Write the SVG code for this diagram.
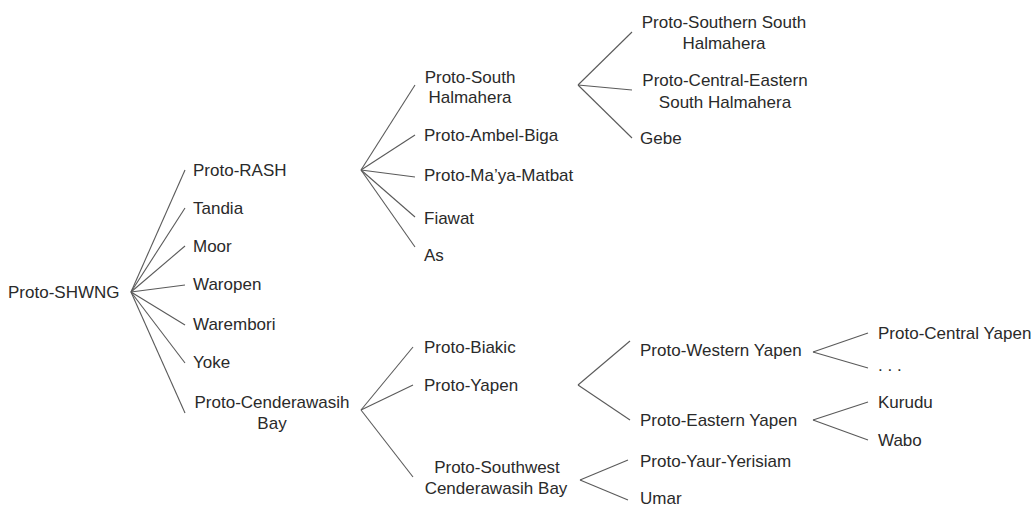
<svg xmlns="http://www.w3.org/2000/svg" width="1036" height="506" viewBox="0 0 1036 506">
<style>
text{font-family:"Liberation Sans",Arial,sans-serif;font-size:17px;fill:#2a2a2a}
.m{text-anchor:middle}
#connectors line{stroke:#5a5a5a;stroke-width:1.1}
</style>
<rect width="1036" height="506" fill="#fff"/>
<g id="connectors">
<line x1="131" y1="292" x2="185" y2="170"/>
<line x1="131" y1="292" x2="185" y2="208"/>
<line x1="131" y1="292" x2="185" y2="246"/>
<line x1="131" y1="292" x2="185" y2="285"/>
<line x1="131" y1="292" x2="185" y2="325"/>
<line x1="131" y1="292" x2="185" y2="363"/>
<line x1="131" y1="292" x2="185" y2="413"/>
<line x1="361" y1="170" x2="415" y2="85"/>
<line x1="361" y1="170" x2="415" y2="135"/>
<line x1="361" y1="170" x2="415" y2="177"/>
<line x1="361" y1="170" x2="415" y2="217"/>
<line x1="361" y1="170" x2="415" y2="247"/>
<line x1="578" y1="85" x2="632" y2="32"/>
<line x1="578" y1="85" x2="632" y2="90"/>
<line x1="578" y1="85" x2="632" y2="138"/>
<line x1="361" y1="410" x2="413" y2="347"/>
<line x1="361" y1="410" x2="413" y2="385"/>
<line x1="361" y1="410" x2="413" y2="477"/>
<line x1="578" y1="385" x2="630" y2="341"/>
<line x1="578" y1="385" x2="630" y2="420"/>
<line x1="580" y1="480" x2="628" y2="460"/>
<line x1="580" y1="480" x2="628" y2="500"/>
<line x1="813" y1="352" x2="868" y2="333"/>
<line x1="813" y1="352" x2="868" y2="368"/>
<line x1="813" y1="420" x2="868" y2="402"/>
<line x1="813" y1="420" x2="868" y2="440"/>
</g>
<g id="n-shwng"><text x="8" y="298">Proto-SHWNG</text></g>
<g id="n-rash"><text x="193" y="176">Proto-RASH</text></g>
<g id="n-tandia"><text x="193" y="214">Tandia</text></g>
<g id="n-moor"><text x="193" y="252">Moor</text></g>
<g id="n-waropen"><text x="193" y="290">Waropen</text></g>
<g id="n-warembori"><text x="193" y="330">Warembori</text></g>
<g id="n-yoke"><text x="193" y="368">Yoke</text></g>
<g id="n-cb"><text class="m" x="272" y="408">Proto-Cenderawasih</text><text class="m" x="272" y="429">Bay</text></g>
<g id="n-psh"><text class="m" x="470" y="83">Proto-South</text><text class="m" x="470" y="103">Halmahera</text></g>
<g id="n-ambel"><text x="424" y="141">Proto-Ambel-Biga</text></g>
<g id="n-maya"><text x="424" y="181">Proto-Ma’ya-Matbat</text></g>
<g id="n-fiawat"><text x="424" y="224">Fiawat</text></g>
<g id="n-as"><text x="424" y="261">As</text></g>
<g id="n-pssh"><text class="m" x="724" y="28">Proto-Southern South</text><text class="m" x="724" y="49">Halmahera</text></g>
<g id="n-pcesh"><text class="m" x="725" y="86">Proto-Central-Eastern</text><text class="m" x="725" y="108">South Halmahera</text></g>
<g id="n-gebe"><text x="640" y="144">Gebe</text></g>
<g id="n-biakic"><text x="424" y="353">Proto-Biakic</text></g>
<g id="n-yapen"><text x="424" y="391">Proto-Yapen</text></g>
<g id="n-swcb"><text class="m" x="497" y="473">Proto-Southwest</text><text class="m" x="496" y="494">Cenderawasih Bay</text></g>
<g id="n-wy"><text x="640" y="356">Proto-Western Yapen</text></g>
<g id="n-ey"><text x="640" y="426">Proto-Eastern Yapen</text></g>
<g id="n-yy"><text x="640" y="467">Proto-Yaur-Yerisiam</text></g>
<g id="n-umar"><text x="640" y="504">Umar</text></g>
<g id="n-cy"><text x="878" y="339">Proto-Central Yapen</text></g>
<g id="n-dots"><text x="878" y="371">. . .</text></g>
<g id="n-kurudu"><text x="878" y="408">Kurudu</text></g>
<g id="n-wabo"><text x="878" y="446">Wabo</text></g>
</svg>
